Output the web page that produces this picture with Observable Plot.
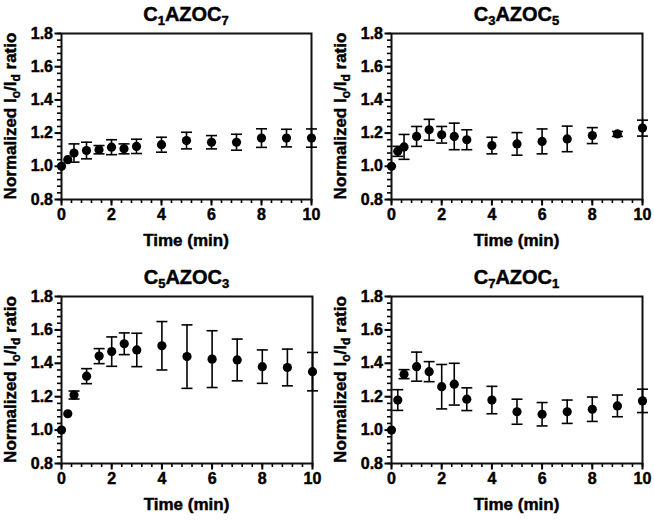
<!DOCTYPE html>
<html>
<head>
<meta charset="utf-8">
<script src="https://cdn.jsdelivr.net/npm/d3@7"></script>
<script src="https://cdn.jsdelivr.net/npm/@observablehq/plot@0.6"></script>
<style>
  html, body { margin: 0; padding: 0; background: #fff; }
  #wrap { position: relative; width: 654px; height: 522px; }
  .panel { position: absolute; width: 327px; height: 261px; }
</style>
</head>
<body>
<div id="wrap"></div>
<script>
// ---- data ----
const times = [0, 0.25, 0.5, 1, 1.5, 2, 2.5, 3, 4, 5, 6, 7, 8, 9, 10];

const c1azoc7Mean = [1.00, 1.04, 1.08, 1.095, 1.10, 1.115, 1.105, 1.12, 1.13, 1.155, 1.145, 1.145, 1.17, 1.17, 1.17];
const c1azoc7Err  = [0, 0.01, 0.055, 0.05, 0.025, 0.045, 0.03, 0.043, 0.045, 0.05, 0.04, 0.048, 0.056, 0.053, 0.055];

const c3azoc5Mean = [1.00, 1.09, 1.117, 1.18, 1.22, 1.19, 1.18, 1.16, 1.125, 1.135, 1.15, 1.165, 1.185, 1.195, 1.23];
const c3azoc5Err  = [0, 0.03, 0.075, 0.06, 0.063, 0.05, 0.08, 0.06, 0.05, 0.068, 0.075, 0.077, 0.048, 0.015, 0.048];

const c5azoc3Mean = [1.00, 1.098, 1.21, 1.323, 1.443, 1.47, 1.517, 1.48, 1.505, 1.44, 1.425, 1.42, 1.38, 1.375, 1.35];
const c5azoc3Err  = [0, 0.01, 0.024, 0.045, 0.045, 0.088, 0.065, 0.10, 0.145, 0.19, 0.17, 0.125, 0.10, 0.11, 0.115];

const c7azoc1Mean = [1.00, 1.18, 1.335, 1.38, 1.35, 1.26, 1.275, 1.185, 1.18, 1.11, 1.095, 1.11, 1.125, 1.145, 1.175];
const c7azoc1Err  = [0, 0.062, 0.027, 0.087, 0.06, 0.133, 0.125, 0.068, 0.082, 0.075, 0.07, 0.07, 0.073, 0.065, 0.07];

const xTicks = [0, 2, 4, 6, 8, 10];
const yTicks = [0.8, 1.0, 1.2, 1.4, 1.6, 1.8];
const xMinorStep = 0.4;
const yMinorStep = 0.04;

// title parts: [main, sub, main, sub]
const titles = [
  ["C", "1", "AZOC", "7"],
  ["C", "3", "AZOC", "5"],
  ["C", "5", "AZOC", "3"],
  ["C", "7", "AZOC", "1"]
];
const xLabel = "Time (min)";
const yLabelParts = [["Normalized I", false], ["o", true], ["/I", false], ["d", true], [" ratio", false]];

// ---- drawing ----
const FONT = "'Liberation Sans', Arial, Helvetica, sans-serif";
const HEAVY = 0.45; // extra stroke to mimic the heavy bold face
const xMinor = d3.range(0, Math.round(10 / xMinorStep) + 1).map(i => +(i * xMinorStep).toFixed(3));
const yMinor = d3.range(0, Math.round(1 / yMinorStep) + 1).map(i => +(0.8 + i * yMinorStep).toFixed(3));

const capSymbol = {
  draw(ctx) { ctx.moveTo(-5.5, 0); ctx.lineTo(5.5, 0); }
};

function heavy(sel, size) {
  return sel.style("font-family", FONT).style("font-weight", "bold").style("font-size", size + "px")
    .style("fill", "#000").style("stroke", "#000").style("stroke-width", HEAVY + "px");
}

function panel(mean, err, title, m, left, top) {
  const data = times.map((t, i) => ({t, m: mean[i], e: err[i]}));
  const withErr = data.filter(d => d.e > 0.012);
  const W = 327, H = 261;
  const plot = Plot.plot({
    width: W, height: H,
    marginLeft: m.l, marginRight: m.r, marginTop: m.t, marginBottom: m.b,
    x: {domain: [0, 10]},
    y: {domain: [0.8, 1.8]},
    style: {fontFamily: FONT, fontWeight: "bold", fontSize: "16px", color: "#000", background: "#fff"},
    marks: [
      Plot.axisX(xMinor, {tickSize: 4, text: null, strokeWidth: 1.6, label: null}),
      Plot.axisX(xTicks, {tickSize: 6.5, tickPadding: 3, strokeWidth: 2, label: null}),
      Plot.axisY(yMinor, {tickSize: 4, text: null, strokeWidth: 1.6, label: null}),
      Plot.axisY(yTicks, {tickSize: 6.5, tickPadding: 2, strokeWidth: 2, label: null, tickFormat: d3.format(".1f")}),
      Plot.frame({stroke: "#111", strokeWidth: 2}),
      Plot.ruleX(withErr, {x: "t", y1: d => d.m - d.e, y2: d => d.m + d.e, stroke: "#000", strokeWidth: 1.6}),
      Plot.dot(withErr, {x: "t", y: d => d.m + d.e, symbol: capSymbol, stroke: "#000", strokeWidth: 1.6, fill: "none"}),
      Plot.dot(withErr, {x: "t", y: d => d.m - d.e, symbol: capSymbol, stroke: "#000", strokeWidth: 1.6, fill: "none"}),
      Plot.dot(data, {x: "t", y: "m", r: 4.6, fill: "#000", stroke: "none"})
    ]
  });

  const svg = d3.select(plot);
  // style Plot's own tick labels (inline style wins over defaults)
  heavy(svg.selectAll("text"), 16);

  const cx = (m.l + W - m.r) / 2;
  const cy = (m.t + H - m.b) / 2;

  // title
  const tt = heavy(svg.append("text"), 20)
    .attr("x", cx).attr("y", m.t - 12)
    .attr("text-anchor", "middle");
  tt.append("tspan").text(title[0]);
  tt.append("tspan").text(title[1]).style("font-size", "13px").attr("dy", 4);
  tt.append("tspan").text(title[2]).attr("dy", -4);
  tt.append("tspan").text(title[3]).style("font-size", "13px").attr("dy", 4);

  // x label
  heavy(svg.append("text"), 17)
    .attr("x", cx).attr("y", H - m.b + 47)
    .attr("text-anchor", "middle")
    .text(xLabel);

  // y label
  const yl = heavy(svg.append("text"), 17)
    .attr("transform", `translate(${m.l - 45},${cy}) rotate(-90)`)
    .attr("text-anchor", "middle");
  let shifted = false;
  for (const [s, sub] of yLabelParts) {
    const ts = yl.append("tspan").text(s);
    if (sub && !shifted) { ts.attr("dy", 4).style("font-size", "12px"); shifted = true; }
    else if (!sub && shifted) { ts.attr("dy", -4); shifted = false; }
  }

  const div = document.createElement("div");
  div.className = "panel";
  div.style.left = left + "px";
  div.style.top = top + "px";
  div.appendChild(plot);
  document.getElementById("wrap").appendChild(div);
}

panel(c1azoc7Mean, c1azoc7Err, titles[0], {l: 61, r: 16, t: 33, b: 62}, 0, 0);
panel(c3azoc5Mean, c3azoc5Err, titles[1], {l: 64, r: 12, t: 33, b: 62}, 327, 0);
panel(c5azoc3Mean, c5azoc3Err, titles[2], {l: 61, r: 15, t: 35, b: 59}, 0, 261);
panel(c7azoc1Mean, c7azoc1Err, titles[3], {l: 64, r: 12, t: 35, b: 59}, 327, 261);
</script>
</body>
</html>
